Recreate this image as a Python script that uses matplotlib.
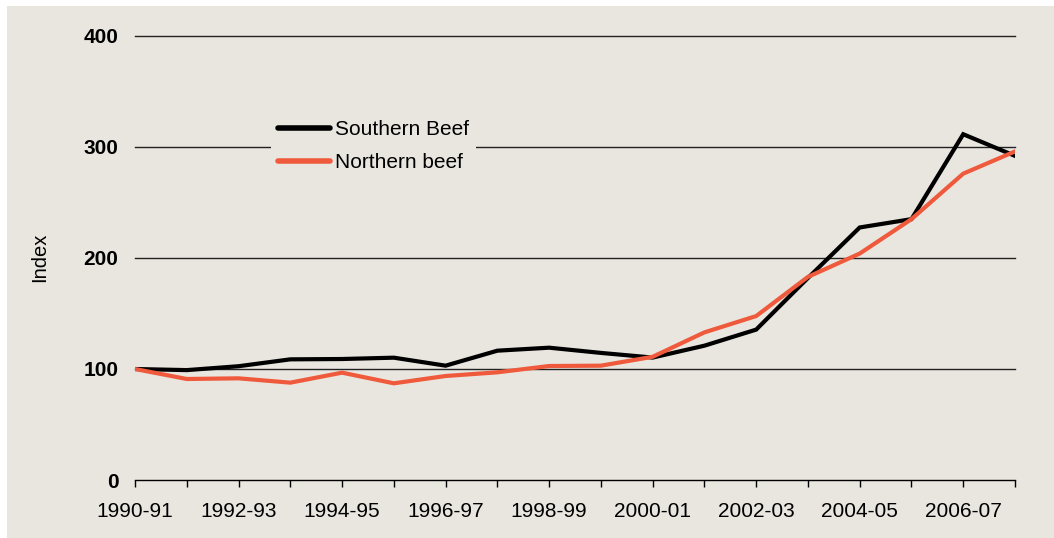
import matplotlib
matplotlib.use("Agg")
import matplotlib.pyplot as plt
from matplotlib.patches import Rectangle

plt.rcParams['font.family'] = ['Liberation Sans', 'DejaVu Sans']

# Financial years shown on the horizontal axis
years = ['1990-91', '1991-92', '1992-93', '1993-94', '1994-95', '1995-96',
         '1996-97', '1997-98', '1998-99', '1999-00', '2000-01', '2001-02',
         '2002-03', '2003-04', '2004-05', '2005-06', '2006-07', '2007-08']

# Index values (1990-91 = 100)
southern_beef = [100, 99, 102.5, 108.7, 109, 110.2, 103, 116.5, 119.2, 114.5,
                 110.3, 121, 135.5, 182, 227.5, 235, 311.5, 292]
northern_beef = [100, 91, 91.6, 87.7, 96.7, 87.1, 93.7, 97, 102.7, 103,
                 111, 133, 147.7, 183, 204, 235, 276, 296]

y_ticks = [0, 100, 200, 300, 400]
series_labels = ['Southern Beef', 'Northern beef']

BG = '#E9E6E0'
RED = '#EF5A3C'

W, H = 1054, 538
fig = plt.figure(figsize=(W / 100, H / 100), dpi=100)
fig.patch.set_facecolor('white')
fig.patches.append(Rectangle((7 / W, 0), 1 - 7 / W, 1 - 6 / H,
                             transform=fig.transFigure, facecolor=BG,
                             edgecolor='none', zorder=-10))

left, right, top, bottom = 135, 1015, 36, 480
ax = fig.add_axes([left / W, 1 - bottom / H, (right - left) / W, (bottom - top) / H])
ax.set_facecolor('none')

x = list(range(len(years)))

for v in y_ticks[1:]:
    ax.axhline(v, color='#222222', lw=1.0, zorder=1, clip_on=False)

ax.plot(x, southern_beef, color='black', lw=3.0, label=series_labels[0],
        zorder=3, solid_joinstyle='miter')
ax.plot(x, northern_beef, color=RED, lw=3.0, label=series_labels[1],
        zorder=4, solid_joinstyle='miter')

ax.set_xlim(0, len(years) - 1)
ax.set_ylim(0, 400)

for s in ['left', 'right', 'top']:
    ax.spines[s].set_visible(False)
ax.spines['bottom'].set_color('black')
ax.spines['bottom'].set_linewidth(1.0)

ax.set_xticks(x)
ax.set_xticklabels([y if i % 2 == 0 else '' for i, y in enumerate(years)],
                   fontsize=15)
ax.tick_params(axis='x', direction='out', length=5, width=1.0, pad=11,
               colors='black')

ax.set_yticks(y_ticks)
ax.set_yticklabels([str(v) for v in y_ticks], fontsize=15, fontweight='bold')
ax.tick_params(axis='y', length=0, pad=12)

fig.text(40 / W, 1 - 257 / H, 'Index', rotation=90, ha='center', va='center',
         fontsize=14.5)

leg = ax.legend(loc='upper left', bbox_to_anchor=(271 / W, 1 - 113 / H),
                bbox_transform=fig.transFigure, frameon=True, fontsize=15,
                handlelength=2.5, handletextpad=0.2, labelspacing=0.65,
                borderpad=0.35, borderaxespad=0)
leg.get_frame().set_facecolor(BG)
leg.get_frame().set_edgecolor('none')
leg.get_frame().set_alpha(1)
leg.get_frame().set_boxstyle('square', pad=0)
for line in leg.get_lines():
    line.set_linewidth(4.0)
    line.set_solid_capstyle('round')

fig.savefig('out.png', dpi=100)
